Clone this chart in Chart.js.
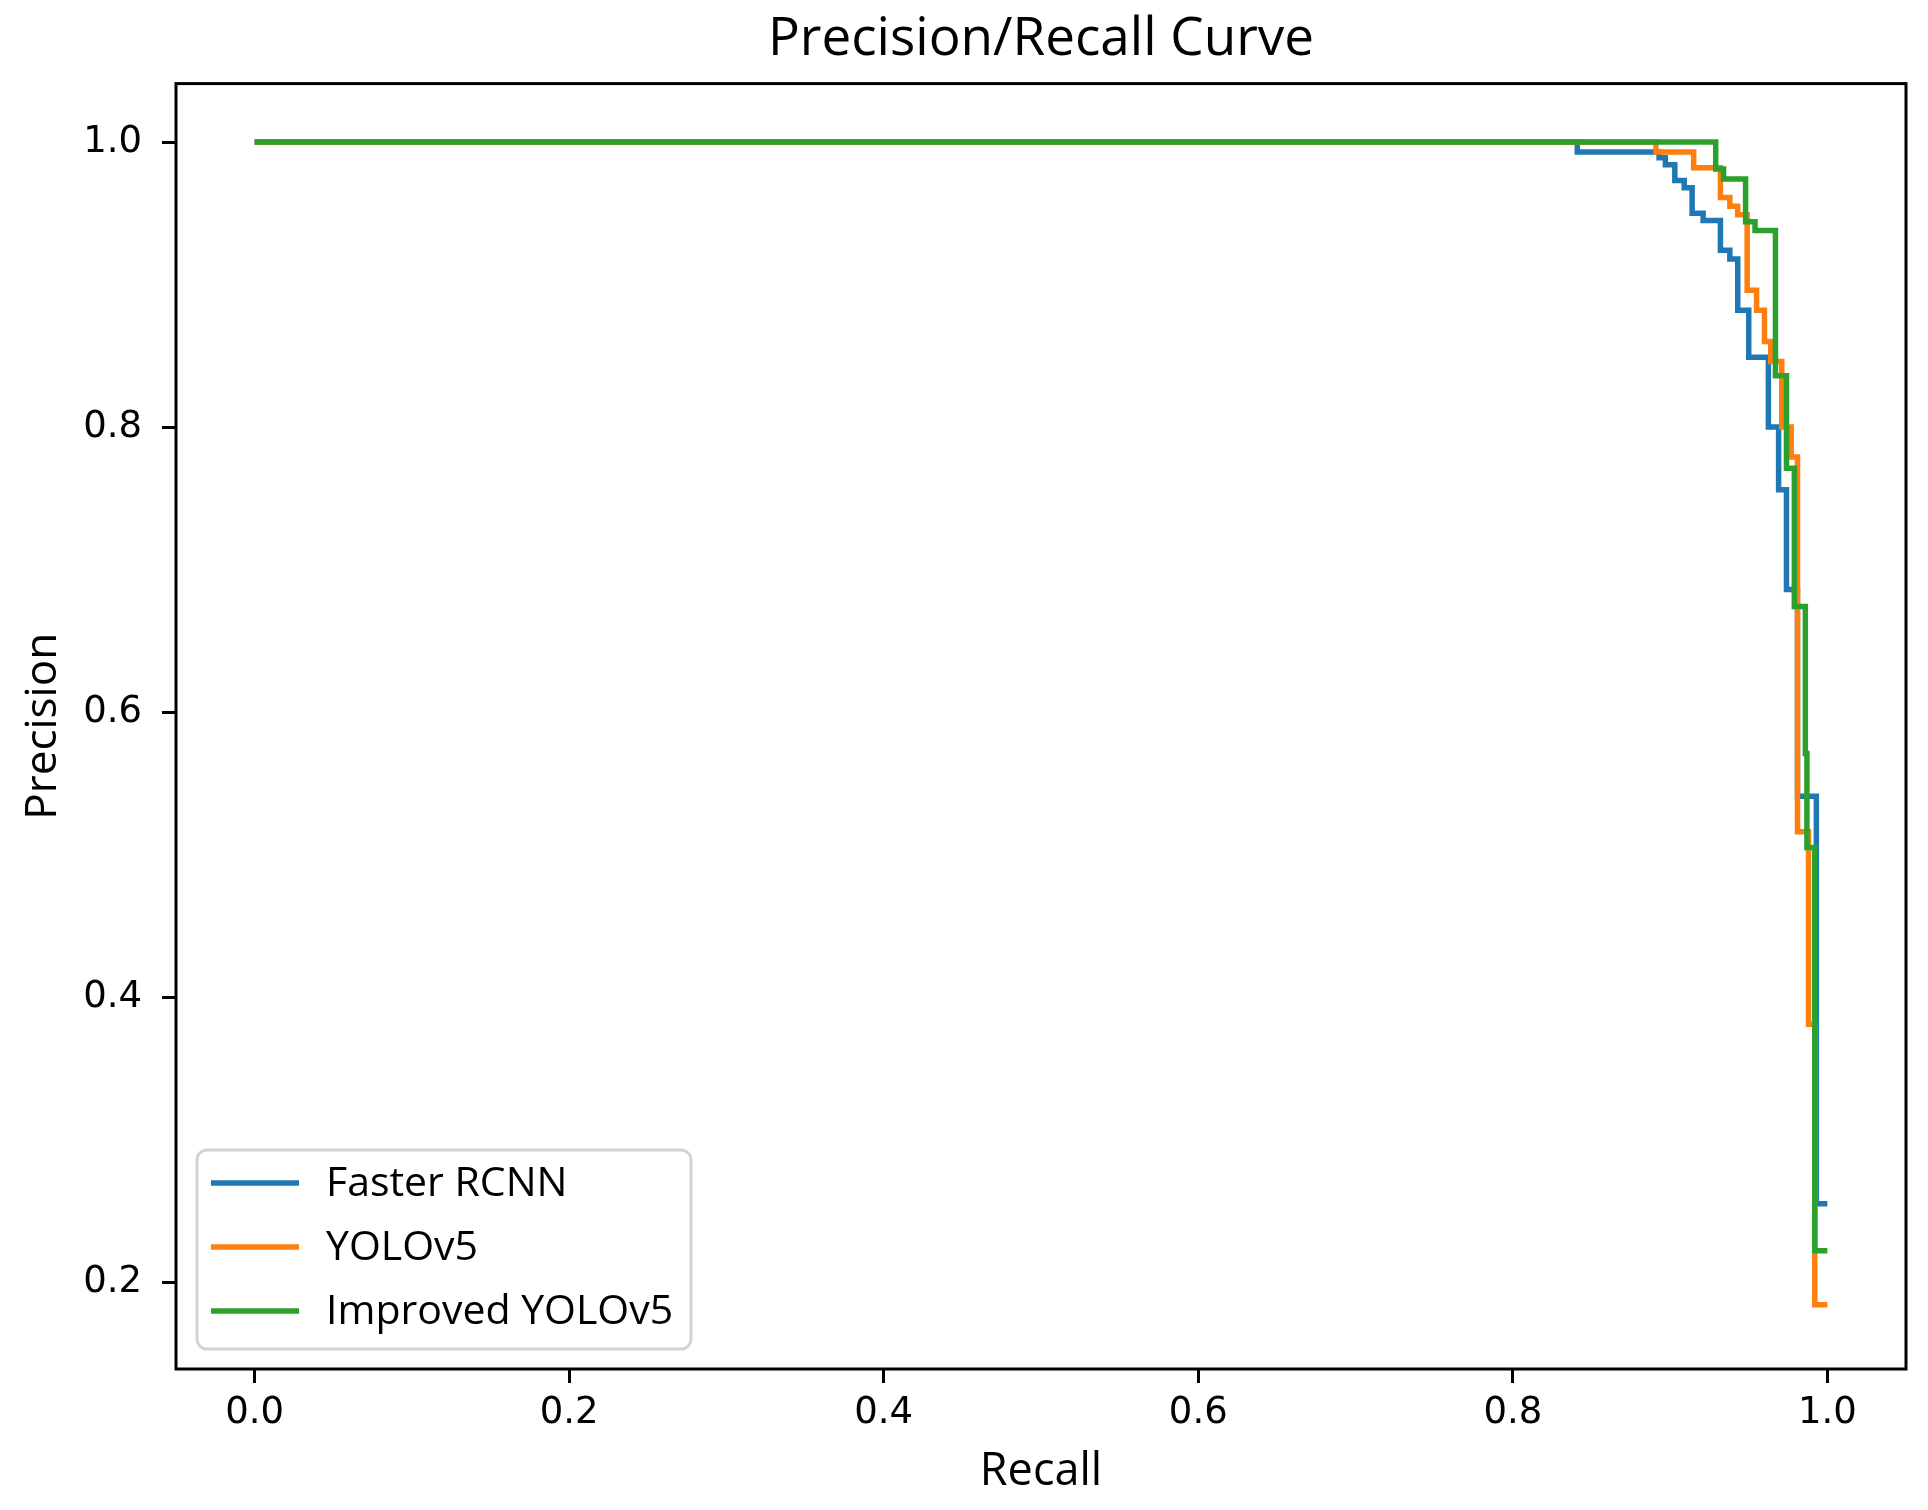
<!DOCTYPE html>
<html>
<head>
<meta charset="utf-8">
<script src="https://cdn.jsdelivr.net/npm/chart.js@4"></script>
<style>
  html, body { margin: 0; padding: 0; background: #fff; }
  #wrap { width: 1928px; height: 1510px; position: relative; }
</style>
</head>
<body>
<div id="wrap"><canvas id="c"></canvas></div>
<script>
// ---- data (points where each step drops, and new level) ----
const seriesNames = ['Faster RCNN', 'YOLOv5', 'Improved YOLOv5'];
const seriesColors = ['#1f77b4', '#ff7f0e', '#2ca02c'];

const fasterRecall    = [0.0, 0.841, 0.893, 0.897, 0.903, 0.909, 0.914, 0.921, 0.932, 0.938, 0.943, 0.950, 0.9625, 0.969, 0.974, 0.981, 0.993, 1.0];
const fasterPrecision = [1.0, 0.993, 0.989, 0.984, 0.973, 0.968, 0.950, 0.945, 0.924, 0.918, 0.882, 0.849, 0.800, 0.756, 0.686, 0.541, 0.255, 0.255];

const yoloRecall    = [0.0, 0.891, 0.915, 0.932, 0.938, 0.943, 0.949, 0.955, 0.960, 0.964, 0.971, 0.977, 0.981, 0.988, 0.992, 1.0];
const yoloPrecision = [1.0, 0.993, 0.982, 0.961, 0.955, 0.949, 0.896, 0.882, 0.860, 0.846, 0.800, 0.779, 0.516, 0.381, 0.184, 0.184];

const improvedRecall    = [0.0, 0.929, 0.934, 0.948, 0.954, 0.967, 0.974, 0.979, 0.986, 0.987, 0.992, 1.0];
const improvedPrecision = [1.0, 0.981, 0.974, 0.944, 0.938, 0.836, 0.771, 0.674, 0.571, 0.505, 0.222, 0.222];

const xTickValues = [0.0, 0.2, 0.4, 0.6, 0.8, 1.0];
const yTickValues = [0.2, 0.4, 0.6, 0.8, 1.0];

const chartTitle = 'Precision/Recall Curve';
const xLabel = 'Recall';
const yLabel = 'Precision';

// ---- build ----
function pts(xs, ys) { return xs.map((x, i) => ({ x: x, y: ys[i] })); }
const recalls = [fasterRecall, yoloRecall, improvedRecall];
const precisions = [fasterPrecision, yoloPrecision, improvedPrecision];

const datasets = seriesNames.map((name, i) => ({
  label: name,
  data: pts(recalls[i], precisions[i]),
  borderColor: seriesColors[i],
  backgroundColor: seriesColors[i],
  borderWidth: 5.5,
  pointRadius: 0,
  fill: false,
  stepped: 'before',
  order: seriesNames.length - 1 - i,
  borderJoinStyle: 'miter',
  borderCapStyle: 'butt'
}));

const frameAndLegend = {
  id: 'frameAndLegend',
  afterDraw(chart) {
    const { ctx, chartArea: a } = chart;
    ctx.save();
    // axes frame
    ctx.strokeStyle = '#000';
    ctx.lineWidth = 3;
    ctx.strokeRect(a.left, a.top, a.right - a.left, a.bottom - a.top);

    // legend box (lower left inside axes)
    const bx = a.left + 21, bw = 494, bh = 199;
    const by = a.bottom - 20 - bh;
    const r = 10;
    ctx.beginPath();
    ctx.moveTo(bx + r, by);
    ctx.lineTo(bx + bw - r, by);
    ctx.arcTo(bx + bw, by, bx + bw, by + r, r);
    ctx.lineTo(bx + bw, by + bh - r);
    ctx.arcTo(bx + bw, by + bh, bx + bw - r, by + bh, r);
    ctx.lineTo(bx + r, by + bh);
    ctx.arcTo(bx, by + bh, bx, by + bh - r, r);
    ctx.lineTo(bx, by + r);
    ctx.arcTo(bx, by, bx + r, by, r);
    ctx.closePath();
    ctx.fillStyle = 'rgba(255,255,255,0.85)';
    ctx.fill();
    ctx.strokeStyle = '#d4d4d4';
    ctx.lineWidth = 3;
    ctx.stroke();

    ctx.font = '41px "Open Sans"';
    ctx.textBaseline = 'middle';
    ctx.textAlign = 'left';
    seriesNames.forEach((name, i) => {
      const yy = by + 33 + i * 64;
      ctx.strokeStyle = seriesColors[i];
      ctx.lineWidth = 5.5;
      ctx.beginPath();
      ctx.moveTo(bx + 14, yy);
      ctx.lineTo(bx + 102, yy);
      ctx.stroke();
      ctx.fillStyle = '#000';
      ctx.fillText(name, bx + 129, yy + 1);
    });
    ctx.restore();
  }
};

new Chart(document.getElementById('c'), {
  type: 'line',
  data: { datasets: datasets },
  plugins: [frameAndLegend],
  options: {
    responsive: true,
    maintainAspectRatio: false,
    devicePixelRatio: 1,
    animation: false,
    layout: { padding: { top: 0, left: 0, right: 22, bottom: 0 } },
    plugins: {
      legend: { display: false },
      tooltip: { enabled: false },
      title: {
        display: true,
        text: chartTitle,
        fullSize: false,
        color: '#000',
        font: { family: 'Open Sans', size: 53, weight: 'normal', lineHeight: 1.2 },
        padding: { top: 8, bottom: 12 }
      }
    },
    scales: {
      x: {
        type: 'linear',
        min: -0.05,
        max: 1.05,
        afterFit(scale) { scale.height = 141; },
        afterBuildTicks(scale) { scale.ticks = xTickValues.map(v => ({ value: v })); },
        ticks: {
          color: '#000',
          font: { family: 'DejaVu Sans', size: 37 },
          padding: 8,
          maxRotation: 0,
          callback: v => Number(v).toFixed(1)
        },
        grid: { drawOnChartArea: false, drawTicks: true, tickLength: 14, tickWidth: 3, tickColor: '#000' },
        border: { display: false },
        title: {
          display: true,
          text: xLabel,
          color: '#000',
          font: { family: 'Open Sans', size: 45, lineHeight: 1.2 },
          padding: { top: 0, bottom: 11 }
        }
      },
      y: {
        type: 'linear',
        min: 0.139,
        max: 1.041,
        afterFit(scale) { scale.width = 176; },
        afterBuildTicks(scale) { scale.ticks = yTickValues.map(v => ({ value: v })); },
        ticks: {
          color: '#000',
          font: { family: 'DejaVu Sans', size: 37 },
          padding: 20,
          callback: v => Number(v).toFixed(1)
        },
        grid: { drawOnChartArea: false, drawTicks: true, tickLength: 14, tickWidth: 3, tickColor: '#000' },
        border: { display: false },
        title: {
          display: true,
          text: yLabel,
          color: '#000',
          font: { family: 'Open Sans', size: 44, lineHeight: 1.2 },
          padding: { top: 17, bottom: 0 }
        }
      }
    }
  }
});
</script>
</body>
</html>
